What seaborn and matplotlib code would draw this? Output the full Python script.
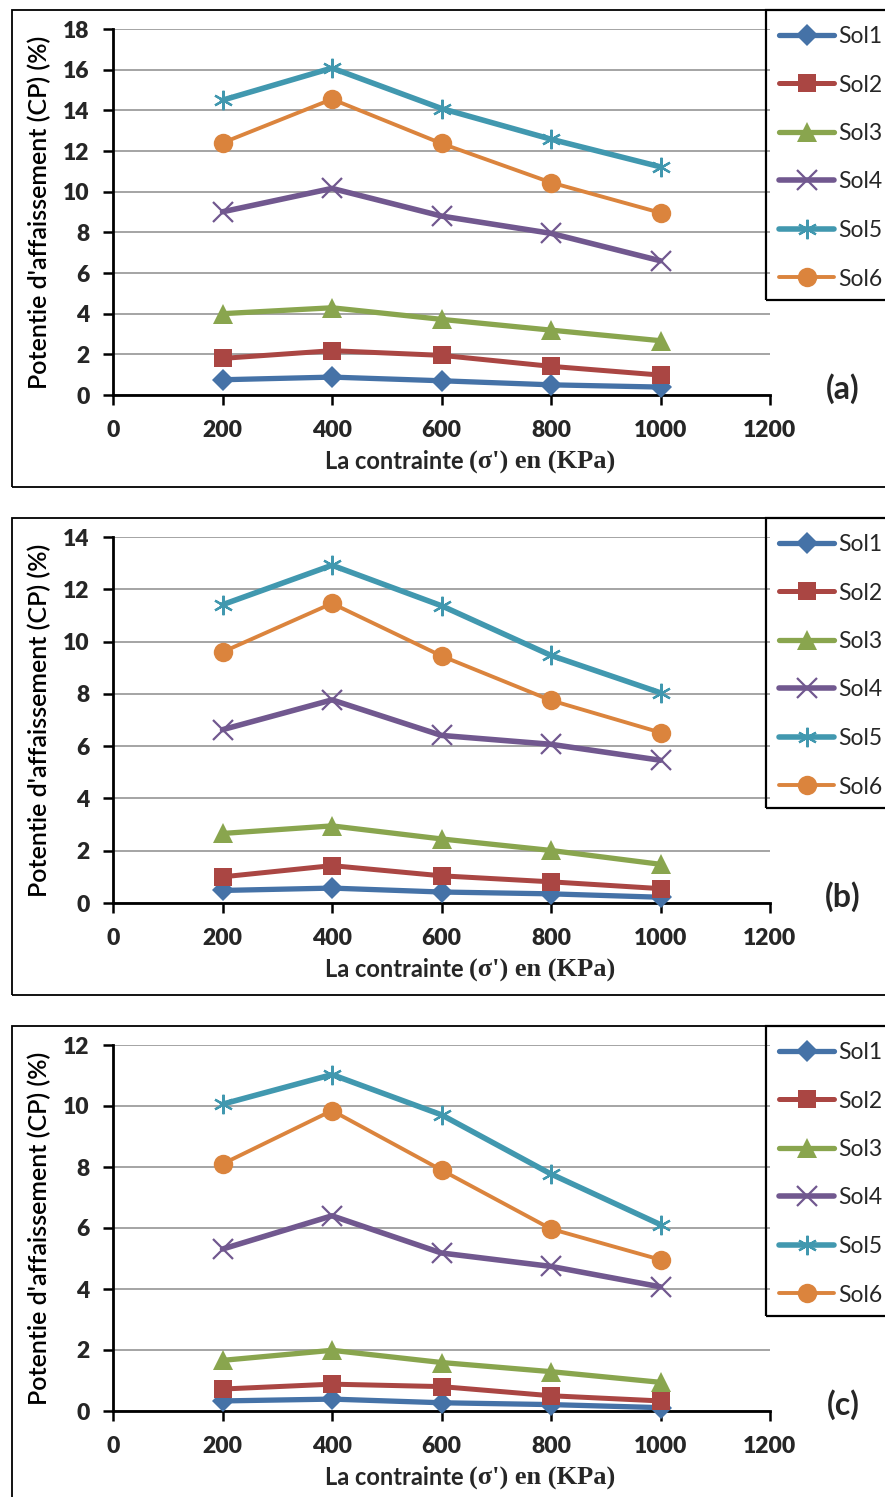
import numpy as np
import pandas as pd
import matplotlib
matplotlib.use("Agg")
import matplotlib.pyplot as plt
import seaborn as sns
from matplotlib.patches import Rectangle
from matplotlib.offsetbox import TextArea, HPacker, AnchoredOffsetbox

# ---------------------------
# Data
# ---------------------------
contrainte = [200, 400, 600, 800, 1000]
sol_names = ["Sol1", "Sol2", "Sol3", "Sol4", "Sol5", "Sol6"]
panel_tags = ["(a)", "(b)", "(c)"]
ymax_list = [18, 14, 12]

a_sol1 = [0.75, 0.88, 0.70, 0.50, 0.39]
a_sol2 = [1.80, 2.18, 1.95, 1.41, 0.98]
a_sol3 = [4.00, 4.29, 3.72, 3.19, 2.67]
a_sol4 = [9.01, 10.16, 8.80, 7.95, 6.60]
a_sol5 = [14.50, 16.08, 14.09, 12.58, 11.22]
a_sol6 = [12.40, 14.55, 12.37, 10.45, 8.96]

b_sol1 = [0.48, 0.57, 0.42, 0.35, 0.22]
b_sol2 = [1.00, 1.43, 1.04, 0.81, 0.55]
b_sol3 = [2.66, 2.95, 2.45, 2.01, 1.48]
b_sol4 = [6.63, 7.77, 6.41, 6.07, 5.46]
b_sol5 = [11.41, 12.92, 11.37, 9.47, 8.04]
b_sol6 = [9.60, 11.46, 9.45, 7.75, 6.52]

c_sol1 = [0.33, 0.39, 0.27, 0.21, 0.11]
c_sol2 = [0.72, 0.88, 0.80, 0.50, 0.33]
c_sol3 = [1.66, 1.99, 1.59, 1.29, 0.94]
c_sol4 = [5.31, 6.40, 5.18, 4.74, 4.07]
c_sol5 = [10.06, 11.03, 9.71, 7.77, 6.11]
c_sol6 = [8.10, 9.85, 7.90, 5.97, 4.96]

panels = [
    [a_sol1, a_sol2, a_sol3, a_sol4, a_sol5, a_sol6],
    [b_sol1, b_sol2, b_sol3, b_sol4, b_sol5, b_sol6],
    [c_sol1, c_sol2, c_sol3, c_sol4, c_sol5, c_sol6],
]

# ---------------------------
# Styles
# ---------------------------
colors = ["#4572A7", "#AA4643", "#89A54E", "#71588F", "#4198AF", "#DB843D"]
markers = ["D", "s", "^", "x", (6, 2, 0), "o"]
msizes = [11, 13.5, 14.5, 14, 14, 14]
lwidths = [3.8, 3.6, 3.8, 4.0, 4.0, 2.8]

sns.set_theme(style="white")
plt.rcParams["font.family"] = ["Lato", "DejaVu Sans"]

W, H = 885, 1497
fig = plt.figure(figsize=(W / 100, H / 100), dpi=100)


def fx(px):
    return px / W


def fy(py):
    return 1 - py / H


# vertical offsets of the 3 panels (pixels)
offsets = [0, 508, 1016]

for i, (vals, tag, ymax) in enumerate(zip(panels, panel_tags, ymax_list)):
    off = offsets[i]
    top, bot = 29 + off, 395 + off
    ax = fig.add_axes([fx(113), fy(bot), fx(770) - fx(113), (bot - top) / H])

    # panel frame
    fig.patches.append(Rectangle((fx(12), fy(487 + off)), 1.2, (487 - 10) / H,
                                 transform=fig.transFigure, fill=False,
                                 edgecolor="black", linewidth=1.3, zorder=0))

    for name, v, c, m, ms, lw in zip(sol_names, vals, colors, markers, msizes, lwidths):
        thin = m in ("x",) or isinstance(m, tuple)
        sns.lineplot(x=contrainte, y=v, ax=ax, color=c, marker=m, markersize=ms,
                     linewidth=lw, markeredgewidth=1.6 if thin else 0,
                     markeredgecolor=c, label=name, clip_on=False, zorder=3)

    ax.set_xlim(0, 1200)
    ax.set_ylim(0, ymax)
    ax.set_xticks(range(0, 1201, 200))
    ax.set_yticks(range(0, ymax + 1, 2))
    ax.yaxis.grid(True, color="#8C8C8C", linewidth=1.1)
    ax.xaxis.grid(False)
    for s in ["top", "right"]:
        ax.spines[s].set_visible(False)
    for s in ["left", "bottom"]:
        ax.spines[s].set_color("black")
        ax.spines[s].set_linewidth(2.0)
    ax.tick_params(axis="both", direction="out", length=7, width=1.8, color="black",
                   labelsize=16.5, bottom=True, left=True)
    ax.tick_params(axis="y", pad=10)
    ax.tick_params(axis="x", pad=11)
    for lab in ax.get_xticklabels() + ax.get_yticklabels():
        lab.set_fontweight("heavy")

    ax.set_ylabel("Potentie d'affaissement (CP) (%)", fontsize=18, color="black",
                  fontweight="semibold")
    ax.yaxis.set_label_coords(fx(51), fy((top + bot) / 2), transform=fig.transFigure)
    ax.set_xlabel("")

    # x label: sans bold + serif bold
    t1 = TextArea("La contrainte ", textprops=dict(fontsize=17, fontweight="bold",
                                                   family=["Lato", "DejaVu Sans"]))
    t2 = TextArea("(σ') en (KPa)", textprops=dict(fontsize=19, fontweight="bold",
                                                  family=["Liberation Serif", "DejaVu Serif"]))
    box = HPacker(children=[t1, t2], align="baseline", pad=0, sep=0)
    anch = AnchoredOffsetbox(loc="center", child=box, pad=0, frameon=False,
                             bbox_to_anchor=(fx(470), fy(462 + off)),
                             bbox_transform=fig.transFigure, borderpad=0)
    fig.add_artist(anch)

    # panel tag
    fig.text(fx(843), fy(389 + off), tag, fontsize=23, fontweight="bold",
             ha="center", va="center")

    # legend
    handles, labels = ax.get_legend_handles_labels()
    if ax.get_legend() is not None:
        ax.get_legend().remove()
    fig.legend(handles, labels, loc="upper left",
               bbox_to_anchor=(fx(779), fy(26 + off)), bbox_transform=fig.transFigure,
               frameon=False, fontsize=16.5, handlelength=2.4, handletextpad=0.2,
               labelspacing=1.2, borderpad=0, borderaxespad=0)
    fig.patches.append(Rectangle((fx(766), fy(300 + off)), 0.2, (300 - 10) / H,
                                 transform=fig.transFigure, fill=False,
                                 edgecolor="black", linewidth=1.6, zorder=5))

fig.savefig("out.png", dpi=100)
